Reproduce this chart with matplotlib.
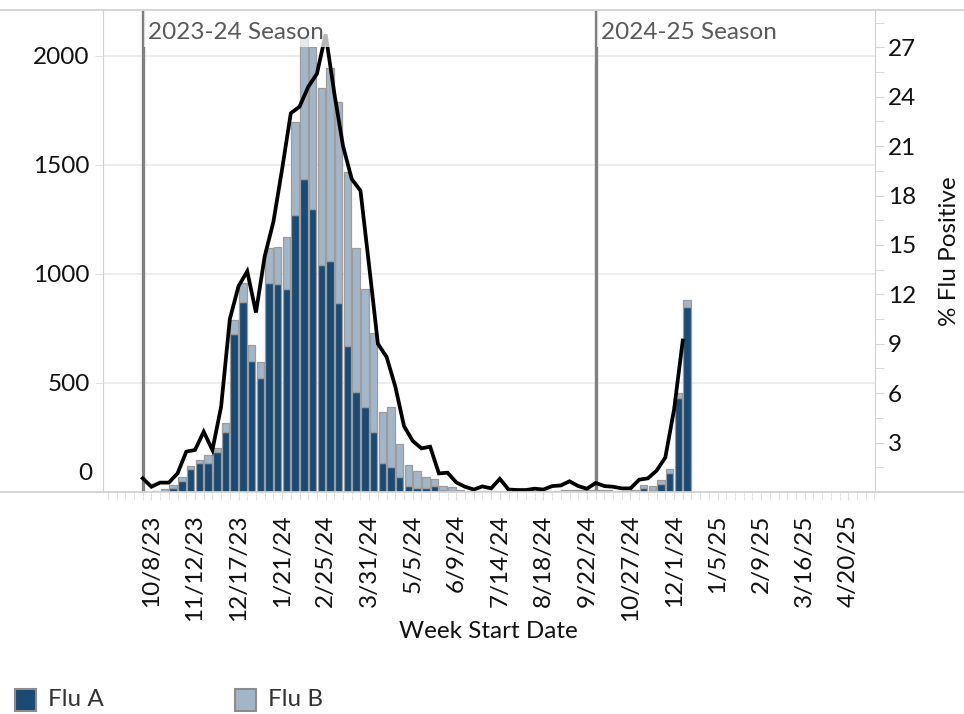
import numpy as np
import matplotlib
matplotlib.use("Agg")
import matplotlib.pyplot as plt
from matplotlib.patches import Rectangle
from matplotlib.lines import Line2D

plt.rcParams['font.family'] = ['Lato', 'DejaVu Sans']

# ---------------- data ----------------
# weekly counts, week 0 = 10/1/23 ... week 62 = 12/8/24
flu_a = [0, 1, 4, 17, 52, 105, 132, 132, 185, 277,
         723, 873, 601, 521, 960, 953, 930, 1271, 1436, 1297,
         1041, 1058, 865, 672, 460, 391, 275, 134, 116, 70,
         28, 18, 18, 28, 9, 3, 2, 1, 1, 1,
         1, 2, 1, 1, 1, 1, 1, 2, 2, 2,
         2, 2, 2, 2, 1, 2, 3, 18, 10, 38,
         89, 433, 848]
flu_b = [0, 2, 12, 13, 15, 16, 16, 39, 15, 38,
         66, 84, 73, 77, 160, 172, 241, 428, 652, 746,
         811, 889, 923, 797, 658, 541, 456, 233, 272, 150,
         94, 78, 50, 32, 17, 19, 5, 4, 3, 4,
         3, 4, 3, 2, 2, 3, 3, 4, 5, 6,
         6, 8, 7, 5, 4, 4, 5, 15, 18, 17,
         18, 20, 33]
pct_positive = [0.83, 0.32, 0.57, 0.57, 1.13, 2.45, 2.55, 3.66, 2.55, 5.18,
                10.5, 12.5, 13.4, 10.9, 14.3, 16.4, 19.6, 23.0, 23.4, 24.6,
                25.4, 27.8, 24.2, 21.0, 19.0, 18.3, 13.7, 9.0, 8.2, 6.4,
                4.0, 3.1, 2.65, 2.75, 1.13, 1.17, 0.58, 0.32, 0.15, 0.34,
                0.22, 0.8, 0.15, 0.12, 0.12, 0.2, 0.15, 0.36, 0.4, 0.65,
                0.36, 0.2, 0.55, 0.36, 0.32, 0.22, 0.22, 0.75, 0.83, 1.3,
                2.1, 5.0, 9.2]
tick_labels = ["10/8/23", "11/12/23", "12/17/23", "1/21/24", "2/25/24", "3/31/24",
               "5/5/24", "6/9/24", "7/14/24", "8/18/24", "9/22/24", "10/27/24",
               "12/1/24", "1/5/25", "2/9/25", "3/16/25", "4/20/25"]
season_labels = ["2023-24 Season", "2024-25 Season"]
season_weeks = [0, 52]

# ---------------- style ----------------
dark = "#1b4a74"
light = "#a3b6c8"
edge = "#9c9c9c"
fs = 17.5

W, H = 964, 714
fig = plt.figure(figsize=(W / 100, H / 100), dpi=100)
ax = fig.add_axes([103 / W, 1 - 492 / H, 772 / W, 482 / H])
ax2 = ax.twinx()

weeks = np.arange(len(flu_a))
xb = weeks + 0.5
a = np.array(flu_a)
b = np.array(flu_b)
ax.bar(xb, a, width=0.86, color=dark, edgecolor=edge, linewidth=0.9, zorder=2)
ax.bar(xb, b, bottom=a, width=0.86, color=light, edgecolor=edge, linewidth=0.9, zorder=2)

for sw in season_weeks:
    ax.axvline(sw, color="#808080", lw=2.4, zorder=1.5)

ax2.plot(np.arange(len(pct_positive)), pct_positive, color="black", lw=2.7,
         solid_joinstyle="miter", zorder=3)

ymax2 = 29.27
for sw, lab in zip(season_weeks, season_labels):
    # semi-transparent annotation box
    ax2.add_patch(Rectangle((sw + 0.15, 27.0), 22.0, ymax2 - 27.0, facecolor="white",
                            alpha=0.72, edgecolor="none", zorder=5))
    ax2.text(sw + 0.6, 28.55, lab, fontsize=fs, color="#595959", va="top", ha="left",
             zorder=6)

ax.set_xlim(-4.56, 84.07)
ax.set_ylim(0, 2211)
ax2.set_ylim(0, ymax2)

ax.set_yticks([0, 500, 1000, 1500, 2000])
ax.set_yticklabels(["", "500", "1000", "1500", "2000"])
ax.tick_params(axis="y", length=6, color="#e2e2e2", pad=3.5, labelsize=fs,
               labelcolor="#111111")
fig.text(92 / W, 1 - 474 / H, "0", ha="right", va="center", fontsize=fs, color="#111111")

ax.yaxis.grid(True, color="#ececec", linewidth=1.3)
ax.set_axisbelow(True)

ax2.set_yticks([3, 6, 9, 12, 15, 18, 21, 24, 27])
ax2.set_yticks(np.arange(1.5, 29.5, 3), minor=True)
ax2.tick_params(axis="y", which="both", length=6.5, color="#d5d5d5", pad=3,
                labelsize=fs, labelcolor="#111111")

ax.set_xticks(np.arange(1, 82, 5))
ax.set_xticklabels(tick_labels, rotation=90, fontsize=fs, color="#111111")
ax.set_xticks(np.arange(-4, 85), minor=True)
ax.tick_params(axis="x", which="both", length=6, color="#dedede", pad=10)

for s in ["top", "bottom"]:
    ax.spines[s].set_visible(False)
    ax2.spines[s].set_visible(False)
ax.spines["left"].set_color("#d0d0d0")
ax.spines["right"].set_visible(False)
ax2.spines["left"].set_visible(False)
ax2.spines["right"].set_color("#d0d0d0")

# full-width pane borders
for yy in [10, 492]:
    fig.add_artist(Line2D([0, 1], [1 - yy / H] * 2, color="#d3d3d3", lw=1.3,
                          transform=fig.transFigure))

fig.text(488 / W, 1 - 632 / H, "Week Start Date", ha="center", va="center",
         fontsize=fs, color="#111111")
fig.text(950 / W, 1 - 251 / H, "% Flu Positive", ha="center", va="center",
         rotation=90, fontsize=fs, color="#111111")

# legend
for x0, col, lab in [(15, dark, "Flu A"), (235, light, "Flu B")]:
    fig.add_artist(Rectangle((x0 / W, 1 - 711 / H), 21 / W, 22 / H, facecolor=col,
                             edgecolor="#8c8c8c", lw=1.5, transform=fig.transFigure))
    fig.text((x0 + 33) / W, 1 - 700 / H, lab, ha="left", va="center", fontsize=fs,
             color="#333333")

fig.savefig("out.png", dpi=100)
